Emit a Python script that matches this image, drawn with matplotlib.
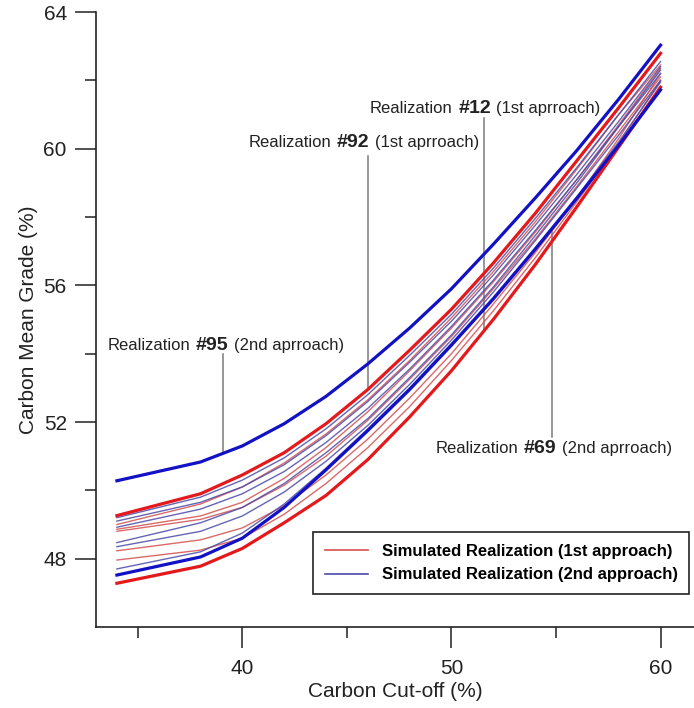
import numpy as np
import matplotlib
matplotlib.use("Agg")
import matplotlib.pyplot as plt
from matplotlib.ticker import FixedLocator
from matplotlib.offsetbox import TextArea, HPacker, AnnotationBbox

plt.rcParams["font.family"] = ["Liberation Sans", "DejaVu Sans"]

# carbon cut-off grades (%)
cutoff = [34, 38, 40, 42, 44, 46, 48, 50, 52, 54, 56, 58, 60]

# highlighted realizations (thick lines)
real_95 = [50.28, 50.83, 51.3, 51.95, 52.75, 53.7, 54.75, 55.9, 57.2, 58.55, 59.95, 61.45, 63.03]   # 2nd approach
real_92 = [49.26, 49.9, 50.45, 51.1, 51.95, 52.95, 54.1, 55.3, 56.65, 58.1, 59.65, 61.2, 62.79]     # 1st approach
real_69 = [47.52, 48.05, 48.6, 49.5, 50.6, 51.75, 52.95, 54.25, 55.6, 57.05, 58.55, 60.1, 61.72]    # 2nd approach
real_12 = [47.28, 47.78, 48.3, 49.05, 49.85, 50.9, 52.15, 53.5, 55.0, 56.6, 58.3, 60.05, 61.8]      # 1st approach

# remaining realizations, 1st approach
first_thin = [
    [49.0, 49.6, 50.1, 50.8, 51.65, 52.65, 53.8, 55.05, 56.4, 57.85, 59.4, 61.0, 62.45],
    [48.86, 49.25, 49.65, 50.35, 51.25, 52.3, 53.5, 54.75, 56.1, 57.55, 59.1, 60.7, 62.35],
    [48.8, 49.15, 49.5, 50.15, 51.0, 52.05, 53.25, 54.5, 55.9, 57.35, 58.9, 60.5, 62.1],
    [48.23, 48.55, 48.9, 49.55, 50.45, 51.5, 52.7, 54.0, 55.45, 56.95, 58.55, 60.3, 62.2],
    [47.96, 48.25, 48.6, 49.3, 50.2, 51.25, 52.45, 53.8, 55.25, 56.8, 58.45, 60.15, 62.0],
]

# remaining realizations, 2nd approach
second_thin = [
    [49.2, 49.8, 50.3, 50.95, 51.8, 52.8, 53.95, 55.15, 56.5, 57.95, 59.45, 61.0, 62.55],
    [49.1, 49.65, 50.1, 50.75, 51.6, 52.6, 53.75, 54.95, 56.3, 57.75, 59.25, 60.8, 62.4],
    [48.92, 49.45, 49.9, 50.55, 51.4, 52.4, 53.55, 54.8, 56.15, 57.6, 59.1, 60.65, 62.2],
    [48.47, 49.05, 49.5, 50.2, 51.1, 52.1, 53.3, 54.55, 55.95, 57.45, 59.0, 60.65, 62.3],
    [48.35, 48.8, 49.25, 49.95, 50.85, 51.9, 53.1, 54.4, 55.8, 57.3, 58.85, 60.4, 62.0],
    [47.7, 48.2, 48.75, 49.6, 50.65, 51.8, 53.0, 54.3, 55.65, 57.1, 58.6, 60.2, 61.95],
]

RED_THIN = "#d4504f"
BLUE_THIN = "#4a4aa8"
RED = "#e3191c"
BLUE = "#1212c4"
GREY = "#7a7a7a"
INK = "#222222"

fig = plt.figure(figsize=(6.94, 7.08), dpi=100)
ax = fig.add_axes([96 / 694, 81 / 708, 598 / 694, 615 / 708])

for ys in first_thin:
    ax.plot(cutoff, ys, color=RED_THIN, lw=1.0, alpha=0.85)
for ys in second_thin:
    ax.plot(cutoff, ys, color=BLUE_THIN, lw=1.0, alpha=0.85)

ax.plot(cutoff, real_12, color=RED, lw=2.3)
ax.plot(cutoff, real_92, color=RED, lw=2.3)
ax.plot(cutoff, real_69, color=BLUE, lw=2.3)
ax.plot(cutoff, real_95, color=BLUE, lw=2.3)

ax.set_xlim(33, 61.6)
ax.set_ylim(46, 64)
ax.xaxis.set_major_locator(FixedLocator([40, 50, 60]))
ax.xaxis.set_minor_locator(FixedLocator([35, 45, 55]))
ax.yaxis.set_major_locator(FixedLocator([48, 52, 56, 60, 64]))
ax.yaxis.set_minor_locator(FixedLocator([50, 54, 58, 62]))
ax.tick_params(which="major", direction="out", length=15, width=1.1,
               labelsize=15, color=INK, labelcolor=INK)
ax.tick_params(axis="x", which="major", pad=8)
ax.tick_params(axis="y", which="major", pad=6)
ax.tick_params(which="minor", direction="out", length=8, width=1.1, color=INK)
for side in ("top", "right"):
    ax.spines[side].set_visible(False)
for side in ("left", "bottom"):
    ax.spines[side].set_linewidth(1.2)
    ax.spines[side].set_color(INK)

ax.set_xlabel("Carbon Cut-off (%)", fontsize=15, labelpad=3, color=INK)
ax.set_ylabel("Carbon Mean Grade (%)", fontsize=15, labelpad=4, color=INK)


def label(number, approach, xy):
    parts = [
        TextArea("Realization", textprops=dict(fontsize=12, color=INK)),
        TextArea(number, textprops=dict(fontsize=14, fontweight="bold", color=INK)),
        TextArea(approach, textprops=dict(fontsize=12, color=INK)),
    ]
    box = HPacker(children=parts, align="baseline", pad=0, sep=4)
    ab = AnnotationBbox(box, xy, xycoords="data", box_alignment=(0, 0.5),
                        frameon=False, pad=0)
    ax.add_artist(ab)


# (series, number, approach, label anchor, leader x, leader far end y)
callouts = [
    (real_95, "#95", "(2nd aprroach)", (33.55, 54.25), 39.05, 54.0),
    (real_92, "#92", "(1st aprroach)", (40.3, 60.17), 46.0, 59.8),
    (real_12, "#12", "(1st aprroach)", (46.1, 61.19), 51.55, 60.9),
    (real_69, "#69", "(2nd aprroach)", (49.25, 51.21), 54.8, 51.55),
]
for ys, num, appr, pos, lx, ly in callouts:
    label(num, appr, pos)
    ax.plot([lx, lx], [ly, np.interp(lx, cutoff, ys)], color=GREY, lw=1.1, zorder=1)

# legend
h1, = ax.plot([], [], color=RED_THIN, lw=1.2, label="Simulated Realization (1st approach)")
h2, = ax.plot([], [], color=BLUE_THIN, lw=1.2, label="Simulated Realization (2nd approach)")
leg = ax.legend(handles=[h1, h2], loc="lower right", bbox_to_anchor=(1.006, 0.04),
                fancybox=False, framealpha=1, edgecolor=INK,
                prop=dict(weight="bold", size=12), handlelength=2.6,
                borderpad=0.7, labelspacing=0.5)
leg.get_frame().set_linewidth(1.2)

fig.savefig("out.png", dpi=100)
